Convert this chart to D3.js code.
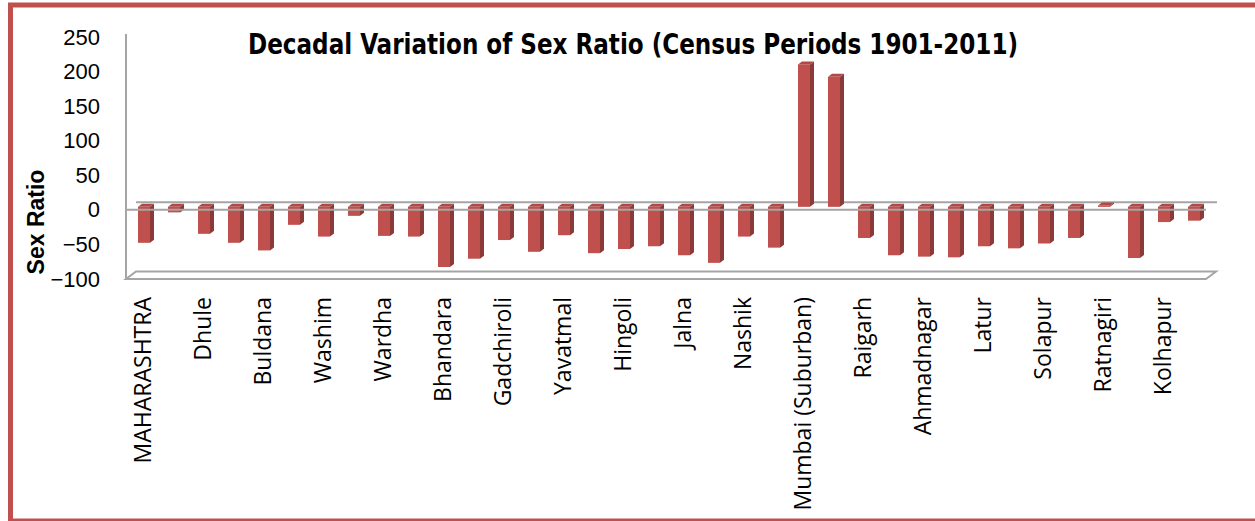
<!DOCTYPE html>
<html>
<head>
<meta charset="utf-8">
<script src="https://cdn.jsdelivr.net/npm/d3@7"></script>
<style>
  body { margin: 0; background: #fff; }
  svg { display: block; }
</style>
</head>
<body>
<div id="chart"></div>
<script>
const districts = ["MAHARASHTRA", "Nandurbar", "Dhule", "Jalgaon", "Buldana", "Akola", "Washim", "Amravati",
  "Wardha", "Nagpur", "Bhandara", "Gondiya", "Gadchiroli", "Chandrapur", "Yavatmal", "Nanded", "Hingoli",
  "Parbhani", "Jalna", "Aurangabad", "Nashik", "Thane", "Mumbai (Suburban)", "Mumbai", "Raigarh", "Pune",
  "Ahmadnagar", "Bid", "Latur", "Osmanabad", "Solapur", "Satara", "Ratnagiri", "Sindhudurg", "Kolhapur", "Sangli"];
const variation = [-52, -8, -39, -52, -63, -26, -43, -13, -42, -43, -87, -75, -48, -65, -41, -67, -61,
  -57, -70, -81, -43, -59, 206, 188, -45, -70, -72, -73, -57, -60, -53, -45, 2, -74, -22, -20];
const yTicks = [250, 200, 150, 100, 50, 0, -50, -100];
const shownLabels = districts.filter((d, i) => i % 2 === 0);

const width = 1255, height = 521;
const depth = { x: 10, y: 7.5 };   // back wall offset
const barDepth = { x: 4, y: 3 };   // bar thickness offset
const barShift = { x: 3, y: -3 };  // bars sit a little behind the front plane
const barW = 12;

const svg = d3.select("#chart").append("svg")
  .attr("width", width)
  .attr("height", height);

// chart border
svg.append("rect")
  .attr("x", 10.5).attr("y", 5)
  .attr("width", 1300).attr("height", 516)
  .attr("fill", "none")
  .attr("stroke", "#c0504d")
  .attr("stroke-width", 5);

const x = d3.scaleBand()
  .domain(districts)
  .range([126, 1206]);

const y = d3.scaleLinear()
  .domain([-100, 250])
  .range([279, 37]);

const grey = "#a5a5a5";
const x0 = x.range()[0], x1 = x.range()[1];

// back zero line and floor
svg.append("line")
  .attr("x1", x0 + depth.x).attr("x2", x1 + depth.x + 1)
  .attr("y1", y(0) - depth.y).attr("y2", y(0) - depth.y)
  .attr("stroke", grey).attr("stroke-width", 2);

svg.append("path")
  .attr("d", `M${x0},${y(-100)} L${x0 + depth.x},${y(-100) - depth.y} L${x1 + depth.x},${y(-100) - depth.y} L${x1},${y(-100)} Z`)
  .attr("fill", "none")
  .attr("stroke", grey).attr("stroke-width", 2);

// bars
const bars = svg.append("g").attr("class", "bars")
  .selectAll("g")
  .data(districts.map((d, i) => ({ name: d, val: variation[i] })))
  .join("g");

function geom(d) {
  const lx = x(d.name) + x.bandwidth() / 2 - barW / 2 + barShift.x;
  const yv = y(d.val) + barShift.y;
  const yz = y(0) + barShift.y;
  return { lx, top: Math.min(yv, yz), bot: Math.max(yv, yz) };
}

bars.append("rect")
  .attr("x", d => geom(d).lx)
  .attr("y", d => geom(d).top)
  .attr("width", barW)
  .attr("height", d => geom(d).bot - geom(d).top)
  .attr("fill", "#c0504d");

bars.append("path")
  .attr("d", d => {
    const g = geom(d), r = g.lx + barW;
    return `M${r},${g.top} L${r + barDepth.x},${g.top - barDepth.y} L${r + barDepth.x},${g.bot - barDepth.y} L${r},${g.bot} Z`;
  })
  .attr("fill", "#8c3a38");

bars.append("path")
  .attr("d", d => {
    const g = geom(d);
    return `M${g.lx},${g.top} L${g.lx + barDepth.x},${g.top - barDepth.y} L${g.lx + barW + barDepth.x},${g.top - barDepth.y} L${g.lx + barW},${g.top} Z`;
  })
  .attr("fill", "#b04845");

// front zero line over the bars
svg.append("line")
  .attr("x1", x0).attr("x2", x1)
  .attr("y1", y(0)).attr("y2", y(0))
  .attr("stroke", grey).attr("stroke-width", 2);

// y axis
const yAxis = svg.append("g")
  .attr("transform", `translate(${x0},0)`)
  .call(d3.axisLeft(y).tickValues(yTicks).tickSize(0).tickPadding(26));
yAxis.select(".domain")
  .attr("d", `M0,${y(250) - 3}V${y(-100)}`)
  .attr("stroke", grey).attr("stroke-width", 2);
yAxis.selectAll("text")
  .attr("font-family", "'Liberation Sans', Arial, sans-serif")
  .attr("font-size", 22)
  .attr("fill", "#000");

// x axis labels (every second district)
const xAxis = svg.append("g")
  .attr("transform", `translate(0,${y(-100)})`)
  .call(d3.axisBottom(x).tickValues(shownLabels).tickSize(0));
xAxis.select(".domain").remove();
xAxis.selectAll("text")
  .attr("font-family", "'Open Sans', sans-serif")
  .attr("font-size", 23)
  .attr("fill", "#000")
  .attr("text-anchor", "end")
  .attr("dy", null)
  .attr("y", 0)
  .attr("transform", "translate(10,18) rotate(-90)");

// titles
svg.append("text")
  .attr("x", 633).attr("y", 54)
  .attr("text-anchor", "middle")
  .attr("font-family", "'Liberation Sans Narrow', 'DejaVu Sans Condensed', sans-serif")
  .attr("font-weight", "bold")
  .attr("font-size", 28)
  .attr("textLength", 770)
  .attr("lengthAdjust", "spacingAndGlyphs")
  .text("Decadal Variation of Sex Ratio (Census Periods 1901-2011)");

svg.append("text")
  .attr("transform", "translate(44,222) rotate(-90)")
  .attr("text-anchor", "middle")
  .attr("font-family", "'Liberation Sans Narrow', 'Liberation Sans', sans-serif")
  .attr("font-weight", "bold")
  .attr("font-size", 23)
  .text("Sex Ratio");
</script>
</body>
</html>
